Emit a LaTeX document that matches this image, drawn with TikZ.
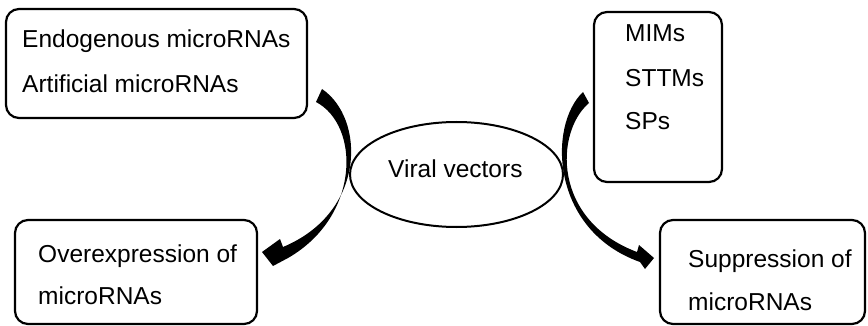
\documentclass[tikz,border=0pt]{standalone}
\usepackage{fontspec}
\setmainfont{Liberation Sans}
\usetikzlibrary{shapes.geometric}
\begin{document}
\begin{tikzpicture}[x=1pt,y=-1pt,
  box/.style={draw=black, line width=2.2pt, rounded corners=13pt, rectangle, inner sep=0pt},
  oval/.style={draw=black, line width=2pt, ellipse, inner sep=0pt},
  lbl/.style={anchor=base west, inner sep=0pt, font=\fontsize{24.5}{28}\selectfont},
  arr/.style={fill=black, draw=none}]
\useasboundingbox (0,0) rectangle (868,326);
% boxes
\node[box, minimum width=301pt, minimum height=109pt] (b1) at (156.5,63.5) {};
\node[box, minimum width=128pt, minimum height=170pt] (b2) at (658,97) {};
\node[box, minimum width=242pt, minimum height=104pt] (b3) at (136,272) {};
\node[box, minimum width=205pt, minimum height=104pt] (b4) at (762.5,272) {};
\node[oval, minimum width=213pt, minimum height=105pt] (vv) at (456.5,174.5) {};
% texts
\node[lbl] (t1a) at (22,48) {Endogenous microRNAs};
\node[lbl] (t1b) at (22,93) {Artificial microRNAs};
\node[lbl] (t2a) at (625,42) {MIMs};
\node[lbl] (t2b) at (625,87) {STTMs};
\node[lbl] (t2c) at (625,130) {SPs};
\node[lbl] (t3a) at (38,262) {Overexpression of};
\node[lbl] (t3b) at (38,304) {microRNAs};
\node[lbl] (t4a) at (688,267) {Suppression of};
\node[lbl] (t4b) at (688,310) {microRNAs};
\node[lbl] (tvv) at (388,178) {Viral vectors};
% left arrow (tapered)
\fill[arr] (316,102) -- (322,89)
  .. controls (365,118) and (367,212) .. (283,247)
  -- (280,239) -- (262,252) -- (273,266) -- (288,258)
  .. controls (361,216) and (360,125) .. (316,102) -- cycle;
% right arrow (tapered)
\fill[arr] (583,92) -- (589,103)
  .. controls (555,132) and (552,220) .. (637,252)
  -- (639,245) -- (654,258) -- (645,269) -- (640,262)
  .. controls (550,230) and (548,125) .. (583,92) -- cycle;
\end{tikzpicture}
\end{document}
